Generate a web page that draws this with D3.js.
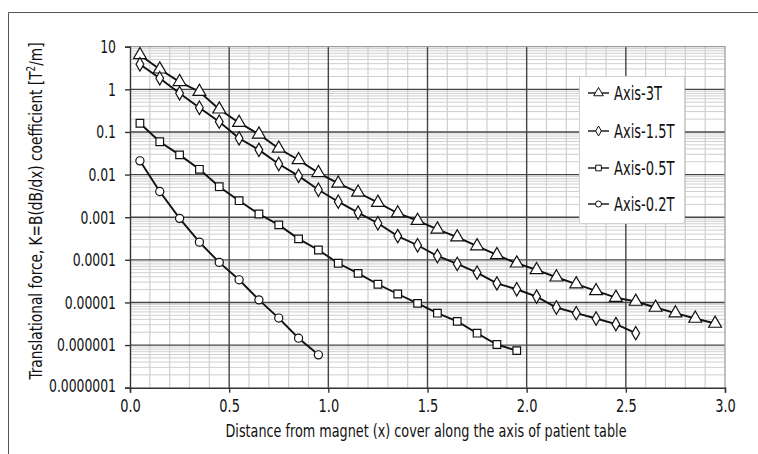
<!doctype html>
<html lang="en">
<head>
    <meta charset="utf-8">
    <title>Translational force along the patient table axis</title>
    <script src="https://cdnjs.cloudflare.com/ajax/libs/d3/7.8.5/d3.min.js"></script>
    <style>
        body {
            margin: 0;
            background: #ffffff;
        }
        svg text {
            font-family: 'Liberation Sans Narrow', 'DejaVu Sans', sans-serif;
            font-stretch: condensed;
            fill: #111;
        }
    </style>
</head>
<body>
    <svg id="chart" width="758" height="454"></svg>
    <script>
        // distances (m) and K values
        const x3T = [0.05, 0.15, 0.25, 0.35, 0.45, 0.55, 0.65, 0.75, 0.85, 0.95,
                     1.05, 1.15, 1.25, 1.35, 1.45, 1.55, 1.65, 1.75, 1.85, 1.95,
                     2.05, 2.15, 2.25, 2.35, 2.45, 2.55, 2.65, 2.75, 2.85, 2.95];
        const k3T = [6.4, 2.95, 1.5, 0.88, 0.34, 0.165, 0.088, 0.041, 0.022, 0.011,
                     0.0062, 0.0038, 0.0022, 0.00124, 0.00083, 0.00052, 0.00034, 0.00021, 0.00013, 0.000083,
                     0.000058, 0.000039, 0.000027, 0.0000186, 0.000013, 0.0000105, 0.0000076, 0.0000056, 0.0000042, 0.0000032];

        const x15T = [0.05, 0.15, 0.25, 0.35, 0.45, 0.55, 0.65, 0.75, 0.85, 0.95,
                      1.05, 1.15, 1.25, 1.35, 1.45, 1.55, 1.65, 1.75, 1.85, 1.95,
                      2.05, 2.15, 2.25, 2.35, 2.45, 2.55];
        const k15T = [3.87, 1.82, 0.81, 0.37, 0.174, 0.071, 0.038, 0.0177, 0.0093, 0.0044,
                      0.00231, 0.00128, 0.00072, 0.00036, 0.00022, 0.000123, 0.00008, 0.00005, 0.000028, 0.0000204,
                      0.0000137, 0.0000076, 0.0000056, 0.0000042, 0.0000031, 0.0000019];

        const x05T = [0.05, 0.15, 0.25, 0.35, 0.45, 0.55, 0.65, 0.75, 0.85, 0.95,
                      1.05, 1.15, 1.25, 1.35, 1.45, 1.55, 1.65, 1.75, 1.85, 1.95];
        const k05T = [0.16, 0.059, 0.029, 0.0133, 0.0052, 0.00244, 0.00119, 0.00066, 0.00031, 0.00017,
                      0.000083, 0.000048, 0.0000267, 0.0000158, 0.0000095, 0.0000056, 0.0000036, 0.0000019, 0.00000103, 0.00000074];

        const x02T = [0.05, 0.15, 0.25, 0.35, 0.45, 0.55, 0.65, 0.75, 0.85, 0.95];
        const k02T = [0.021, 0.004, 0.00094, 0.00026, 0.000087, 0.000034, 0.0000115, 0.0000043, 0.00000145, 0.00000059];

        const seriesNames = ["Axis-3T", "Axis-1.5T", "Axis-0.5T", "Axis-0.2T"];
        const xTicks = [0, 0.5, 1.0, 1.5, 2.0, 2.5, 3.0];
        const yTicks = [10, 1, 0.1, 0.01, 0.001, 0.0001, 0.00001, 0.000001, 0.0000001];
        const yTickLabels = ["10", "1", "0.1", "0.01", "0.001", "0.0001", "0.00001", "0.000001", "0.0000001"];

        const svg = d3.select("#chart");
        const margin = {left: 130, right: 33, top: 46.7, bottom: 66.3};
        const W = 758, H = 454;

        const x = d3.scaleLinear().domain([0, 3]).range([margin.left, W - margin.right]);
        const y = d3.scaleLog().domain([1e-7, 10]).range([H - margin.bottom, margin.top]);

        // the fonts here are wider than the condensed face of the original,
        // so squeeze each label horizontally
        function squash(sel, f) {
            sel.each(function () {
                const w = this.getComputedTextLength();
                d3.select(this).attr("textLength", w * f).attr("lengthAdjust", "spacingAndGlyphs");
            });
        }

        // outer frame
        svg.append("path")
            .attr("d", `M8.5,${H}V12.5H${W}`)
            .attr("fill", "none")
            .attr("stroke", "#555")
            .attr("stroke-width", 1);

        // minor grid
        const grid = svg.append("g");
        const minorX = d3.range(1, 30).map(i => i / 10).filter(v => Math.abs(v * 2 - Math.round(v * 2)) > 1e-6);
        grid.selectAll(".vx").data(minorX).enter().append("line")
            .attr("x1", d => x(d)).attr("x2", d => x(d))
            .attr("y1", y(1e-7)).attr("y2", y(10))
            .attr("stroke", "#cfcfcf").attr("stroke-width", 1.2);
        const minorY = [];
        yTicks.slice(1).forEach(b => { for (let m = 2; m <= 9; m++) minorY.push(b * m); });
        grid.selectAll(".hy").data(minorY).enter().append("line")
            .attr("x1", x(0)).attr("x2", x(3))
            .attr("y1", d => y(d)).attr("y2", d => y(d))
            .attr("stroke", "#cfcfcf").attr("stroke-width", 1);

        // plot frame top/right
        svg.append("path")
            .attr("d", `M${x(0)},${y(10)}H${x(3)}V${y(1e-7)}`)
            .attr("fill", "none").attr("stroke", "#999").attr("stroke-width", 1.2);

        // major grid
        grid.selectAll(".mx").data(xTicks.slice(1, -1)).enter().append("line")
            .attr("x1", d => x(d)).attr("x2", d => x(d))
            .attr("y1", y(1e-7)).attr("y2", y(10))
            .attr("stroke", "#444").attr("stroke-width", 1.4);
        grid.selectAll(".my").data(yTicks.slice(1, -1)).enter().append("line")
            .attr("x1", x(0)).attr("x2", x(3))
            .attr("y1", d => y(d)).attr("y2", d => y(d))
            .attr("stroke", "#444").attr("stroke-width", 1.4);

        // axes
        const xAxis = svg.append("g")
            .attr("transform", `translate(0,${y(1e-7)})`)
            .call(d3.axisBottom(x).tickValues(xTicks).tickFormat(d3.format(".1f")).tickSize(5).tickPadding(6));
        xAxis.selectAll("text").attr("font-size", 18.5).attr("fill", "#111").call(squash, 0.78);
        const yAxis = svg.append("g")
            .attr("transform", `translate(${x(0)},0)`)
            .call(d3.axisLeft(y).tickValues(yTicks).tickFormat((d, i) => yTickLabels[i]).tickSize(5).tickPadding(9));
        yAxis.selectAll("text").attr("font-size", 18.5).attr("fill", "#111");
        {
            const wLong = yAxis.selectAll("text").nodes().pop().getComputedTextLength();
            yAxis.selectAll("text").call(squash, 67 / wLong);
        }
        // lowest y label sits just above the first x label, as in the original
        yAxis.select(".tick:last-of-type text").attr("dy", "0.2em");
        svg.selectAll(".domain, .tick line").attr("stroke", "#333").attr("stroke-width", 1.4);

        // axis titles
        svg.append("text")
            .attr("x", 426).attr("y", 437)
            .attr("text-anchor", "middle").attr("font-size", 18.5)
            .text("Distance from magnet (x) cover along the axis of patient table")
            .each(function () {
                d3.select(this).attr("textLength", 401).attr("lengthAdjust", "spacingAndGlyphs");
            });
        const yt = svg.append("text")
            .attr("text-anchor", "middle").attr("font-size", 18.5);
        yt.append("tspan").text("Translational force, K=B(dB/dx) coefficient [T");
        yt.append("tspan").attr("font-size", 12).attr("dy", -7).text("2");
        yt.append("tspan").attr("dy", 7).text("/m]");
        {
            const w = yt.node().getBBox().width;
            yt.attr("transform", `translate(42,211) rotate(-90) scale(${338 / w},1)`);
        }

        // markers
        const symbols = [d3.symbolTriangle, d3.symbolDiamond, d3.symbolSquare, d3.symbolCircle];
        const sizes = [72, 52, 58, 52];
        const seriesX = [x3T, x15T, x05T, x02T];
        const seriesK = [k3T, k15T, k05T, k02T];

        const line = d3.line().x(d => x(d[0])).y(d => y(d[1]));

        seriesNames.forEach((name, s) => {
            const pts = seriesX[s].map((v, i) => [v, seriesK[s][i]]);
            svg.append("path")
                .datum(pts)
                .attr("d", line)
                .attr("fill", "none")
                .attr("stroke", "#111")
                .attr("stroke-width", 1.9);
            svg.append("g").selectAll("path")
                .data(pts).enter().append("path")
                .attr("transform", d => `translate(${x(d[0])},${y(d[1])})`)
                .attr("d", d3.symbol().type(symbols[s]).size(sizes[s]))
                .attr("fill", "#fff")
                .attr("stroke", "#111")
                .attr("stroke-width", 1.2);
        });

        // legend
        const lg = svg.append("g");
        lg.append("rect")
            .attr("x", 579.5).attr("y", 76.5).attr("width", 105).attr("height", 147)
            .attr("fill", "#fff").attr("stroke", "#d0d0d0");
        const legendY = [93, 131, 168, 204];
        let legendF = 1;
        seriesNames.forEach((name, s) => {
            const ly = legendY[s];
            lg.append("line")
                .attr("x1", 588).attr("x2", 609).attr("y1", ly).attr("y2", ly)
                .attr("stroke", "#111").attr("stroke-width", 1.4);
            lg.append("path")
                .attr("transform", `translate(598.5,${ly})`)
                .attr("d", d3.symbol().type(symbols[s]).size(sizes[s] * 0.55))
                .attr("fill", "#fff").attr("stroke", "#111").attr("stroke-width", 1);
            const t = lg.append("text")
                .attr("x", 614).attr("y", ly + 7)
                .attr("font-size", 20)
                .text(name);
            if (s === 0) legendF = 48 / t.node().getComputedTextLength();
            t.call(squash, legendF);
        });
    </script>
</body>
</html>
